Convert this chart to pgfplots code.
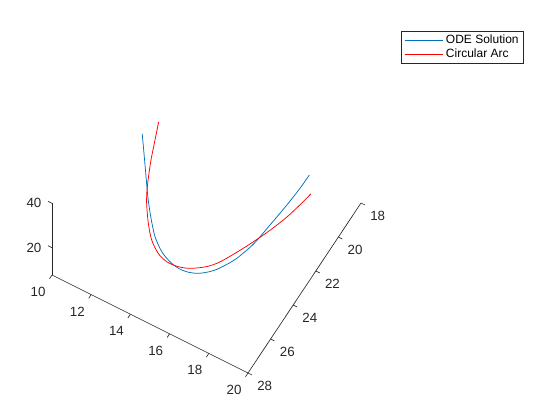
\documentclass[border=0pt]{standalone}
\usepackage{fontspec}
\setmainfont{Liberation Sans}
\usepackage{pgfplots}
\pgfplotsset{compat=1.18}
\usepackage{pgfplotstable}
\definecolor{mblue}{rgb}{0,0.447,0.741}
\definecolor{axgray}{rgb}{0.15,0.15,0.15}
\pgfplotstableread{
x y z
11.68 22.93 39.82
12.06 23.38 33.25
12.50 23.91 25.68
12.65 24.08 23.16
12.94 24.36 19.00
13.33 24.66 14.12
13.78 24.84 10.68
14.23 24.90 8.63
14.65 24.89 7.47
15.04 24.83 7.14
15.48 24.70 7.37
15.89 24.52 8.28
16.28 24.31 9.71
16.76 23.98 12.28
17.00 23.79 13.85
17.54 23.26 18.57
18.03 22.64 24.61
18.52 22.00 30.86
18.89 21.48 36.04
19.14 21.08 40.08
}\odedata
\pgfplotstableread{
x y z
12.24 22.45 43.98
12.29 22.91 38.27
12.33 23.28 33.67
12.41 23.64 29.20
12.49 23.91 25.67
12.62 24.17 22.20
12.91 24.52 17.14
13.23 24.78 13.05
13.65 24.93 10.04
14.09 24.95 8.42
14.56 24.88 7.91
15.00 24.76 8.04
15.42 24.60 8.74
15.88 24.39 9.94
16.33 24.12 11.81
16.93 23.68 15.40
17.51 23.22 19.16
18.09 22.74 23.27
18.65 22.23 27.76
19.07 21.79 31.78
19.41 21.41 35.34
}\arcdata
\begin{document}
\begin{tikzpicture}
\begin{axis}[
  x={(19.6pt,-9.8pt)}, y={(-11.3pt,-17pt)}, z={(0pt,2.22pt)},
  xmin=10, xmax=20, ymin=18, ymax=28, zmin=7.7, zmax=40,
  xtick={10,12,...,20}, ytick={18,20,...,28}, ztick={20,40},
  clip=false,
  axis line style={draw=none},
  major tick length=0pt, tick style={draw=none},
  /pgf/number format/assume math mode=true,
  ticklabel style={font=\fontsize{13.33}{16}\selectfont, text=axgray},
  xticklabel style={anchor=center, xshift=-13.9pt, yshift=-17pt},
  yticklabel style={anchor=center, xshift=16.7pt, yshift=-12.7pt},
  zticklabel style={anchor=center, xshift=-18pt, yshift=0pt},
  legend style={at={(axis description cs:1.5275,1.0068)}, anchor=north east,
    draw=axgray, line width=0.65pt, fill=white,
    font=\fontsize{12}{14}\selectfont, inner xsep=3pt, inner ysep=2pt,
    cells={anchor=west}, column sep=1pt,
    nodes={inner xsep=2pt, inner ysep=1pt, text height=9pt, text depth=3pt}},
  legend image code/.code={\draw[#1, line width=0.75pt] (0pt,0pt) -- (38pt,0pt);},
]
\addplot3[mblue, line width=0.75pt, smooth] table {\odedata};
\addlegendentry{ODE Solution}
\addplot3[red, line width=0.75pt, smooth] table {\arcdata};
\addlegendentry{Circular Arc}
\draw[axgray, line width=0.65pt] (axis cs:10,28,7.7) -- (axis cs:20,28,7.7) -- (axis cs:20,18,7.7);
\draw[axgray, line width=0.65pt] (axis cs:10,28,7.7) -- (axis cs:10,28,40);
\pgfplotsinvokeforeach{10,12,...,20}{
  \draw[axgray, line width=0.65pt] (axis cs:#1,28,7.7) -- (axis cs:#1,28.22,7.7);
}
\pgfplotsinvokeforeach{18,20,...,28}{
  \draw[axgray, line width=0.65pt] (axis cs:20,#1,7.7) -- (axis cs:20.2,#1,7.7);
}
\pgfplotsinvokeforeach{20,40}{
  \draw[axgray, line width=0.65pt] (axis cs:10,28,#1) -- (axis cs:9.8,28,#1);
}
\coordinate (A) at (axis cs:10,28,7.7);
\end{axis}
\pgfresetboundingbox
\path[use as bounding box] (A) ++(-52pt,-145pt) rectangle ++(560pt,420pt);
\end{tikzpicture}
\end{document}
